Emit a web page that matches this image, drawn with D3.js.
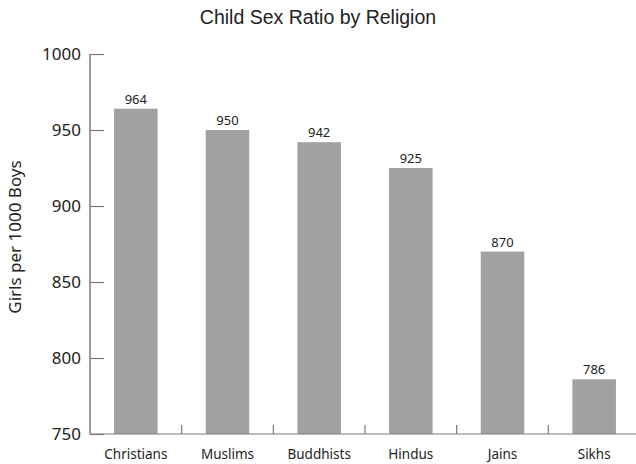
<!DOCTYPE html>
<html><head><meta charset="utf-8">
<script src="https://cdn.jsdelivr.net/npm/d3@7"></script>
<style>body{margin:0;background:#fff}svg{display:block}</style>
</head><body>
<script>
const categories = ["Christians","Muslims","Buddhists","Hindus","Jains","Sikhs"];
const values = [964,950,942,925,870,786];
const yTicks = [750,800,850,900,950,1000];

const W=636,H=464;
const svg=d3.select("body").append("svg").attr("width",W).attr("height",H);
const mLeft=90,mRight=640,mTop=54,mBottom=434;
const x=d3.scaleBand().domain(categories).range([mLeft,mRight]).paddingInner(0.525).paddingOuter(0.2625);
const y=d3.scaleLinear().domain([750,1000]).range([mBottom,mTop]);
const font="'Noto Sans', 'Open Sans', sans-serif";
const axisCol="#7a7a7a";

svg.append("text").attr("x",318).attr("y",24).attr("text-anchor","middle")
 .attr("font-family","'Liberation Sans', Arial, sans-serif").attr("font-size",19.5).attr("fill","#222")
 .text("Child Sex Ratio by Religion");

// bars
svg.selectAll("rect.bar").data(values).enter().append("rect")
 .attr("x",(d,i)=>x(categories[i])).attr("width",x.bandwidth())
 .attr("y",d=>y(d)).attr("height",d=>mBottom-y(d)).attr("fill","#a1a19f");

svg.selectAll("text.val").data(values).enter().append("text")
 .attr("x",(d,i)=>x(categories[i])+x.bandwidth()/2).attr("y",d=>y(d)-5)
 .attr("text-anchor","middle").attr("font-family",font).attr("font-size",13).attr("fill","#222")
 .text(d=>d);

// y axis
const ya=svg.append("g").attr("transform",`translate(${mLeft},0)`)
 .call(d3.axisLeft(y).tickValues(yTicks).tickSize(-14).tickPadding(24).tickFormat(d3.format("d")));
ya.select(".domain").attr("stroke",axisCol).attr("stroke-width",1.5).attr("d",`M0,${mTop}V${mBottom}`);
ya.selectAll(".tick line").attr("stroke",axisCol).attr("stroke-width",1.2);
ya.selectAll(".tick text").attr("font-family",font).attr("font-size",17).attr("fill","#222").attr("x",-9);

// x axis
const xa=svg.append("g").attr("transform",`translate(0,${mBottom})`)
 .call(d3.axisBottom(x).tickSize(0));
xa.select(".domain").attr("stroke",axisCol).attr("stroke-width",1.2).attr("d",`M${mLeft},0H${W}`);
xa.selectAll(".tick text").attr("font-family",font).attr("font-size",13.5).attr("fill","#222")
 .attr("y",25).attr("dy",null);
const seps=categories.slice(1);
xa.selectAll("line.sep").data(seps).enter().append("line")
 .attr("x1",d=>x(d)-x.step()*x.paddingInner()/2).attr("x2",d=>x(d)-x.step()*x.paddingInner()/2)
 .attr("y1",0).attr("y2",-9).attr("stroke",axisCol).attr("stroke-width",1.2);

svg.append("text").attr("transform","translate(21,237) rotate(-90)").attr("text-anchor","middle")
 .attr("font-family",font).attr("font-size",17).attr("fill","#222").text("Girls per 1000 Boys");
</script>
</body></html>
